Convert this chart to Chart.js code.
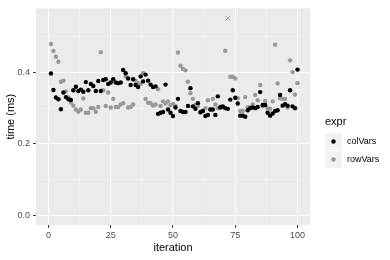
<!DOCTYPE html>
<html>
<head>
<meta charset="utf-8">
<script src="https://cdn.jsdelivr.net/npm/chart.js@4/dist/chart.umd.min.js"></script>
<style>
html, body { margin: 0; padding: 0; background: #fff; }
</style>
</head>
<body>
<canvas id="timeChart" width="390" height="260"></canvas>
<script>
// time (ms) per iteration
const colVars = [
  0.397, 0.351, 0.330, 0.325, 0.297, 0.344, 0.331, 0.325, 0.323, 0.350,
  0.360, 0.348, 0.352, 0.346, 0.373, 0.350, 0.368, 0.362, 0.348, 0.376,
  0.348, 0.379, 0.381, 0.368, 0.372, 0.381, 0.372, 0.370, 0.372, 0.407,
  0.398, 0.383, 0.365, 0.381, 0.365, 0.359, 0.389, 0.375, 0.394, 0.377,
  0.366, 0.359, 0.361, 0.284, 0.287, 0.289, 0.366, 0.296, 0.287, 0.278,
  0.302, 0.326, 0.292, 0.289, 0.289, 0.306, 0.356, 0.305, 0.298, 0.314,
  0.289, 0.292, 0.278, 0.281, 0.296, 0.296, 0.281, 0.333, 0.302, 0.305,
  0.300, 0.298, 0.324, 0.350, 0.329, 0.313, 0.279, 0.279, 0.276, 0.294,
  0.300, 0.302, 0.300, 0.303, 0.345, 0.309, 0.309, 0.287, 0.279, 0.285,
  0.292, 0.294, 0.337, 0.307, 0.311, 0.307, 0.350, 0.305, 0.300, 0.408
];
const rowVars = [
  0.480, 0.460, 0.444, 0.430, 0.374, 0.377, 0.347, 0.330, 0.316, 0.307,
  0.296, 0.290, 0.296, 0.327, 0.287, 0.287, 0.300, 0.300, 0.290, 0.303,
  0.457, 0.350, 0.306, 0.344, 0.302, 0.326, 0.303, 0.303, 0.310, 0.314,
  0.389, 0.302, 0.303, 0.310, 0.377, 0.370, 0.368, 0.398, 0.326, 0.315,
  0.314, 0.307, 0.310, 0.353, 0.306, 0.319, 0.313, 0.319, 0.308, 0.312,
  0.306, 0.456, 0.419, 0.410, 0.406, 0.374, 0.342, 0.326, 0.309, 0.306,
  0.287, 0.292, 0.300, 0.322, 0.296, 0.326, 0.310, 0.300, 0.305, 0.303,
  0.461, 0.552, 0.388, 0.388, 0.383, 0.328, 0.292, 0.292, 0.331, 0.302,
  0.302, 0.310, 0.337, 0.322, 0.365, 0.305, 0.320, 0.300, 0.298, 0.319,
  0.478, 0.369, 0.328, 0.326, 0.326, 0.302, 0.434, 0.401, 0.338, 0.370
];
const rowVarsCross = [72];   // iterations drawn with an x instead of a dot
const xMajor = [0, 25, 50, 75, 100];
const xMinor = [12.5, 37.5, 62.5, 87.5];
const yMajor = [0.0, 0.2, 0.4];
const yMinor = [0.1, 0.3, 0.5];

const FONT = '"Liberation Sans", Arial, sans-serif';

function toPoints(values) {
  return values.map((v, i) => ({ x: i + 1, y: v }));
}

function gridOpts(major) {
  return {
    color: c => major.includes(c.tick.value) ? '#FFFFFF' : 'rgba(255,255,255,0.6)',
    lineWidth: c => major.includes(c.tick.value) ? 1.1 : 0.55,
    tickColor: c => major.includes(c.tick.value) ? '#333333' : 'rgba(0,0,0,0)',
    tickLength: 3,
    tickWidth: 1
  };
}

const panelBg = {
  id: 'panelBg',
  beforeDraw(chart) {
    const { ctx, chartArea: a } = chart;
    ctx.save();
    ctx.fillStyle = '#EBEBEB';
    ctx.fillRect(a.left, a.top, a.right - a.left, a.bottom - a.top);
    ctx.restore();
  }
};

const sideLegend = {
  id: 'sideLegend',
  afterDraw(chart) {
    const ctx = chart.ctx;
    const items = [
      { label: 'colVars', color: '#000000' },
      { label: 'rowVars', color: '#999999' }
    ];
    ctx.save();
    ctx.textBaseline = 'middle';
    ctx.fillStyle = '#000';
    ctx.font = '11px ' + FONT;
    ctx.fillText('expr', 325, 122);
    items.forEach((it, i) => {
      const top = 133 + i * 18;
      ctx.fillStyle = '#F2F2F2';
      ctx.fillRect(325, top, 17, 17);
      ctx.beginPath();
      ctx.arc(333.5, top + 8.5, 2.2, 0, Math.PI * 2);
      ctx.fillStyle = it.color;
      ctx.fill();
      ctx.fillStyle = '#000';
      ctx.font = '9px ' + FONT;
      ctx.fillText(it.label, 347, top + 9);
    });
    ctx.restore();
  }
};

new Chart(document.getElementById('timeChart'), {
  type: 'scatter',
  data: {
    datasets: [{
      label: 'colVars',
      data: toPoints(colVars),
      backgroundColor: '#000000',
      borderColor: '#000000',
      borderWidth: 0,
      pointRadius: 2.2
    }, {
      label: 'rowVars',
      data: toPoints(rowVars),
      backgroundColor: '#999999',
      borderColor: '#999999',
      pointStyle: c => c.raw && rowVarsCross.includes(c.raw.x) ? 'crossRot' : 'circle',
      borderWidth: c => c.raw && rowVarsCross.includes(c.raw.x) ? 1 : 0,
      pointRadius: c => c.raw && rowVarsCross.includes(c.raw.x) ? 3 : 2.2
    }]
  },
  options: {
    responsive: false,
    animation: false,
    devicePixelRatio: 1,
    layout: { padding: { top: 5, right: 80, left: 0, bottom: 0 } },
    plugins: {
      legend: { display: false },
      tooltip: { enabled: false }
    },
    scales: {
      x: {
        type: 'linear',
        min: -5,
        max: 105,
        afterBuildTicks: s => { s.ticks = xMajor.concat(xMinor).sort((a, b) => a - b).map(v => ({ value: v })); },
        afterFit: s => { s.height = 35; },
        ticks: {
          callback: v => xMajor.includes(v) ? String(v) : '',
          color: '#4D4D4D',
          font: { family: FONT, size: 9 },
          padding: 2,
          maxRotation: 0,
          autoSkip: false
        },
        grid: gridOpts(xMajor),
        border: { display: false },
        title: {
          display: true,
          text: 'iteration',
          color: '#000',
          font: { family: FONT, size: 11 },
          padding: { top: 0, bottom: 5 }
        }
      },
      y: {
        type: 'linear',
        min: -0.0276,
        max: 0.5796,
        afterBuildTicks: s => { s.ticks = yMajor.concat(yMinor).sort((a, b) => a - b).map(v => ({ value: v })); },
        afterFit: s => { s.width = 36; },
        ticks: {
          callback: v => yMajor.includes(v) ? v.toFixed(1) : '',
          color: '#4D4D4D',
          font: { family: FONT, size: 9 },
          padding: 3,
          autoSkip: false
        },
        grid: gridOpts(yMajor),
        border: { display: false },
        title: {
          display: true,
          text: 'time (ms)',
          color: '#000',
          font: { family: FONT, size: 11 },
          padding: { top: 4, bottom: 0 }
        }
      }
    }
  },
  plugins: [panelBg, sideLegend]
});
</script>
</body>
</html>
